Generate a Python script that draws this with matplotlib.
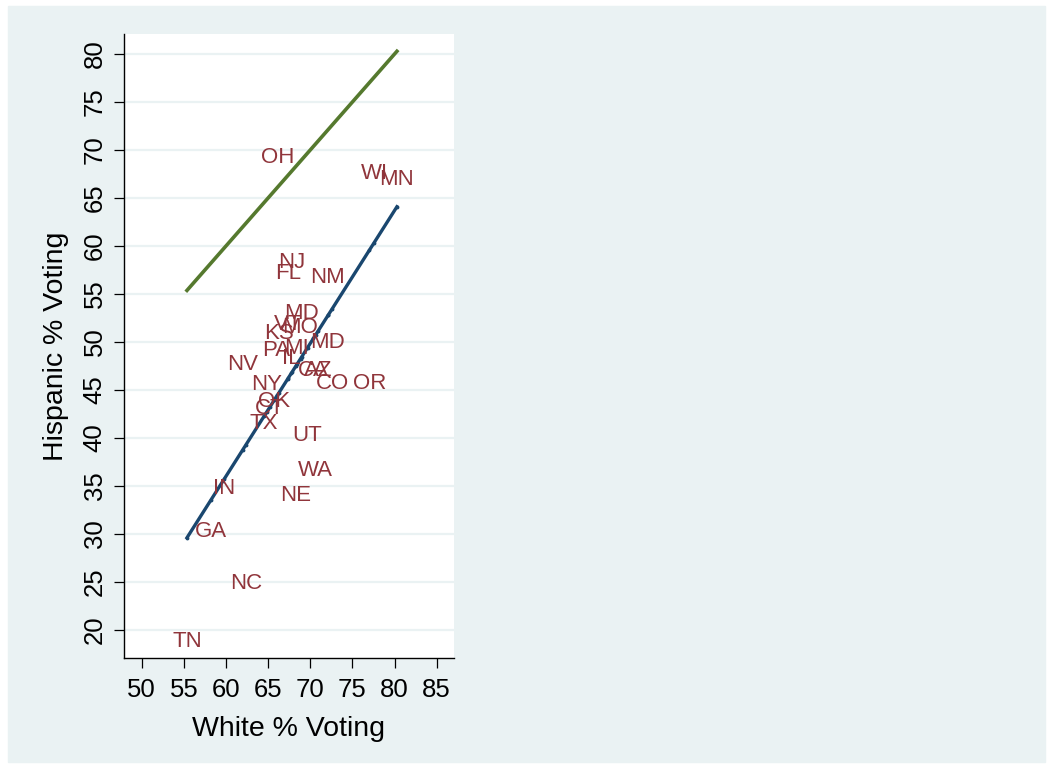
import numpy as np
import matplotlib
matplotlib.use("Agg")
import matplotlib.pyplot as plt
from matplotlib.patches import Rectangle

plt.rcParams['font.family'] = ['Liberation Sans', 'DejaVu Sans']

# turnout by state
states = ["OH", "WI", "MN", "NJ", "FL", "NM", "MD", "VT", "MO", "KS",
          "PA", "MI", "MD", "IL", "NV", "CA", "AZ", "CO", "OR", "NY",
          "OK", "CT", "TX", "UT", "WA", "NE", "IN", "GA", "NC", "TN"]
white = [66.1, 77.56, 80.28, 67.83, 67.41, 72.1, 68.96, 67.35, 68.84, 66.29,
         65.99, 68.42, 72.1, 67.77, 61.96, 70.38, 70.9, 72.6, 77.0, 64.86,
         65.75, 65.22, 64.5, 69.67, 70.62, 68.3, 59.82, 58.22, 62.37, 55.37]
hispanic = [69.19, 67.52, 66.9, 58.25, 57.1, 56.69, 52.93, 51.79, 51.47, 50.85,
            49.08, 49.29, 49.91, 48.24, 47.62, 46.99, 46.99, 45.64, 45.64, 45.53,
            43.76, 43.03, 41.47, 40.22, 36.57, 33.97, 34.69, 30.21, 24.79, 18.75]

xticks = [50, 55, 60, 65, 70, 75, 80, 85]
yticks = [20, 25, 30, 35, 40, 45, 50, 55, 60, 65, 70, 75, 80]

bg = '#eaf2f3'
navy = '#1a476f'
maroon = '#90353b'
green = '#55792e'

fig = plt.figure(figsize=(10.52, 7.69), dpi=100, facecolor='white')
fig.add_artist(Rectangle((8 / 1052, 7 / 769), 1037 / 1052, 756 / 769,
                         transform=fig.transFigure, color=bg, zorder=0))

ax = fig.add_axes([124 / 1052, 111 / 769, 330 / 1052, 624 / 769])
ax.set_facecolor('white')

wx = np.array(white)
hy = np.array(hispanic)

# linear fit of hispanic on white turnout
b, a = np.polyfit(wx, hy, 1)
order = np.argsort(wx)
fit = a + b * wx[order]
ax.plot(wx[order], fit, color=navy, lw=2.4, zorder=3)
ax.plot(wx[order], fit, '.', color=navy, ms=3.5, zorder=3)

# equal turnout line
lo, hi = wx.min(), wx.max()
ax.plot([lo, hi], [lo, hi], color=green, lw=2.6, zorder=3)

for s, x, y in zip(states, white, hispanic):
    ax.text(x, y, s, color=maroon, fontsize=16, ha='center', va='center', zorder=4)

ax.set_xlim(47.9, 87.05)
ax.set_ylim(17.08, 82.08)
ax.set_xticks(xticks)
ax.set_yticks(yticks)
ax.grid(axis='y', color=bg, lw=1.6)
ax.set_axisbelow(True)

for side in ['top', 'right']:
    ax.spines[side].set_visible(False)
for side in ['left', 'bottom']:
    ax.spines[side].set_color('black')
    ax.spines[side].set_linewidth(1.0)

ax.tick_params(axis='both', length=7.5, width=0.9, color='black', labelsize=18.5)
ax.tick_params(axis='x', pad=7)
ax.tick_params(axis='y', labelrotation=90, pad=5)
for lab in ax.get_yticklabels():
    lab.set_va('center')

ax.set_xlabel('White % Voting', fontsize=20.5)
ax.set_ylabel('Hispanic % Voting', fontsize=20.5)
ax.xaxis.set_label_coords(0.5, -0.1138)
ax.yaxis.set_label_coords(-0.206, 0.5)
ax.xaxis.label.set_va('center')
ax.yaxis.label.set_va('center')

fig.savefig('out.png', dpi=100, facecolor='white')
